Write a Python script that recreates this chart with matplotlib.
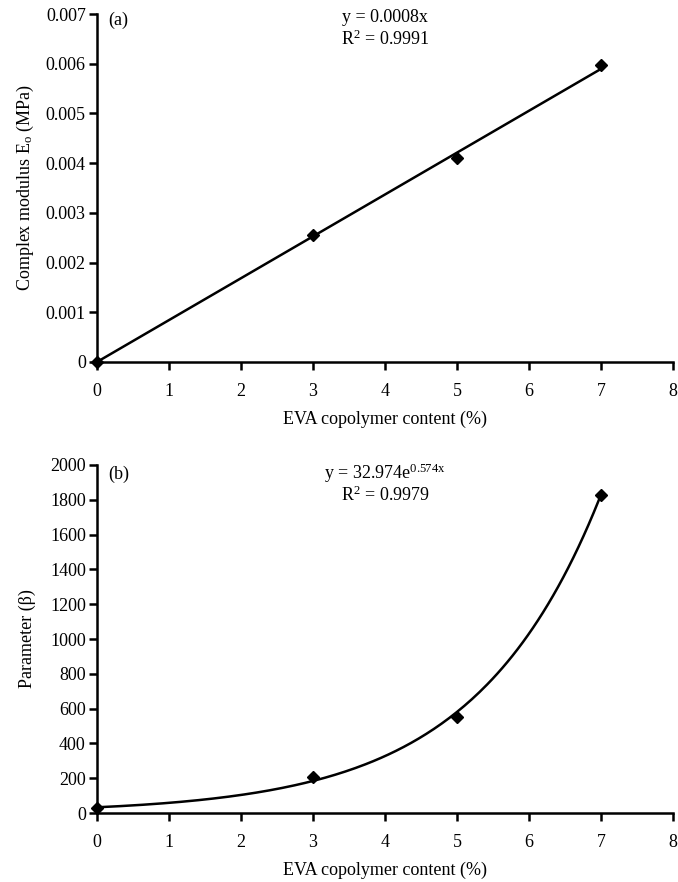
import matplotlib
matplotlib.use("Agg")
import matplotlib.pyplot as plt
import numpy as np

plt.rcParams['font.family'] = ['Liberation Serif', 'DejaVu Serif']
plt.rcParams['mathtext.fontset'] = 'custom'
plt.rcParams['mathtext.rm'] = 'Liberation Serif'
plt.rcParams['mathtext.it'] = 'Liberation Serif'

# data
eva = [0, 3, 5, 7]
modulus = [0.0, 0.00255, 0.0041, 0.00597]
beta = [30, 205, 550, 1830]
exp_a = 32.974
exp_b = 0.574

fig = plt.figure(figsize=(6.78, 8.82), dpi=100)
ax1 = fig.add_axes([0.143, 0.5896, 0.850, 0.3945])
ax2 = fig.add_axes([0.143, 0.0782, 0.850, 0.3946])

fs = 13

def style(ax):
    for s in ['top', 'right']:
        ax.spines[s].set_visible(False)
    for s in ['left', 'bottom']:
        ax.spines[s].set_linewidth(1.8)
    ax.tick_params(direction='out', length=6, width=1.8, labelsize=fs)
    ax.tick_params(axis='x', pad=9)
    ax.tick_params(axis='y', pad=2)
    ax.set_xlim(0, 8)
    ax.set_xticks(range(9))
    ax.set_xlabel("EVA copolymer content (%)", fontsize=fs, labelpad=8)
    ax.yaxis.set_label_coords(-0.105, 0.5)

# (a) linear trend through origin
x = np.array(eva, dtype=float)
y = np.array(modulus)
slope = (x * y).sum() / (x * x).sum()
xs = np.linspace(0, 7, 50)
ax1.plot(xs, slope * xs, color='black', lw=1.8, zorder=2)
ax1.plot(eva, modulus, 'D', color='black', markersize=6.5, zorder=3, clip_on=False)
style(ax1)
ax1.set_ylim(0, 0.007)
ax1.set_yticks(np.arange(0, 0.0071, 0.001))
ax1.set_yticklabels(['0', '0.001', '0.002', '0.003', '0.004', '0.005', '0.006', '0.007'])
ax1.set_ylabel("Complex modulus E$_\\mathrm{o}$ (MPa)", fontsize=fs)
ax1.text(0.15, 0.00688, "(a)", fontsize=fs, va='center')
ax1.text(4, 0.00694, "y = 0.0008x", fontsize=fs, ha='center', va='center')
ax1.text(4, 0.0065, "R$^\\mathrm{2}$ = 0.9991", fontsize=fs, ha='center', va='center')

# (b) exponential trend
xs = np.linspace(0, 7, 200)
ax2.plot(xs, exp_a * np.exp(exp_b * xs), color='black', lw=1.8, zorder=2)
ax2.plot(eva, beta, 'D', color='black', markersize=6.5, zorder=3, clip_on=False)
style(ax2)
ax2.set_ylim(0, 2000)
ax2.set_yticks(range(0, 2001, 200))
ax2.set_ylabel("Parameter (\u03b2)", fontsize=fs)
ax2.text(0.15, 1945, "(b)", fontsize=fs, va='center')
ax2.text(4, 1954, "y = 32.974e$^\\mathrm{0.574x}$", fontsize=fs, ha='center', va='center')
ax2.text(4, 1828, "R$^\\mathrm{2}$ = 0.9979", fontsize=fs, ha='center', va='center')

fig.savefig("out.png", dpi=100)
